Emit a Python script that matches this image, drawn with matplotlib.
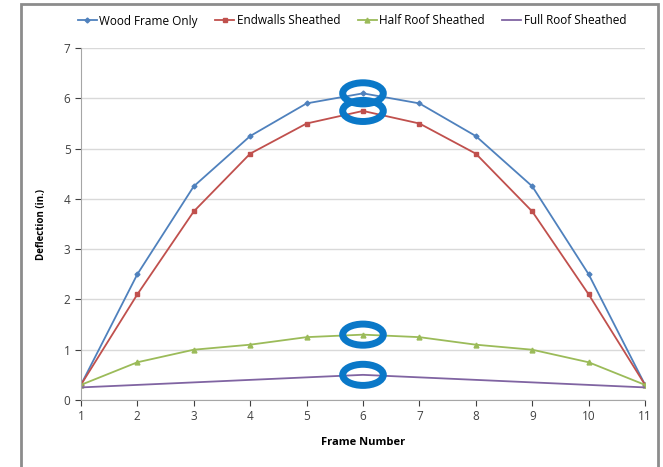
import matplotlib.pyplot as plt
from matplotlib.patches import Ellipse, Rectangle

plt.rcParams['font.family'] = ['Open Sans', 'DejaVu Sans']

frames = [1, 2, 3, 4, 5, 6, 7, 8, 9, 10, 11]
wood_frame = [0.3, 2.5, 4.25, 5.25, 5.9, 6.1, 5.9, 5.25, 4.25, 2.5, 0.3]
endwalls = [0.3, 2.1, 3.75, 4.9, 5.5, 5.75, 5.5, 4.9, 3.75, 2.1, 0.3]
half_roof = [0.3, 0.75, 1.0, 1.1, 1.25, 1.3, 1.25, 1.1, 1.0, 0.75, 0.3]
full_roof = [0.25, 0.3, 0.35, 0.4, 0.45, 0.5, 0.45, 0.4, 0.35, 0.3, 0.25]

# highlighted points (frame 6)
marked_x = 6
marked_y = [wood_frame[5], endwalls[5], half_roof[5], full_roof[5]]

fig = plt.figure(figsize=(6.63, 4.67), dpi=100)
ax = fig.add_axes([0.122, 0.1435, 0.851, 0.7535])

ax.plot(frames, wood_frame, color='#4F81BD', marker='D', markersize=2.5, lw=1.3, label='Wood Frame Only')
ax.plot(frames, endwalls, color='#C0504D', marker='s', markersize=3.5, lw=1.3, label='Endwalls Sheathed')
ax.plot(frames, half_roof, color='#9BBB59', marker='^', markersize=3.5, lw=1.3, label='Half Roof Sheathed')
ax.plot(frames, full_roof, color='#8064A2', lw=1.3, label='Full Roof Sheathed')

for y in marked_y:
    ax.add_patch(Ellipse((marked_x, y), 0.72, 0.42, fill=False, edgecolor='#0A78C8', lw=5, zorder=5))

ax.set_xlim(1, 11)
ax.set_ylim(0, 7)
ax.set_xticks(frames)
ax.set_yticks(range(0, 8))
ax.tick_params(labelsize=8.5, colors='#404040', length=4, direction='out')
ax.yaxis.grid(True, color='#D9D9D9', lw=1)
ax.set_axisbelow(True)
for s in ['top', 'right']:
    ax.spines[s].set_visible(False)
for s in ['left', 'bottom']:
    ax.spines[s].set_color('#A6A6A6')
ax.set_xlabel('Frame Number', fontsize=8, fontweight='bold', labelpad=10)
ax.set_ylabel('Deflection (in.)', fontsize=7, fontweight='bold', labelpad=12)

leg = ax.legend(loc='center', bbox_to_anchor=(352 / 663, 1 - 21 / 467), bbox_transform=fig.transFigure,
                ncol=4, frameon=False, fontsize=8.5, handlelength=1.6, handletextpad=0.2, columnspacing=1.5)

fig.patches.append(Rectangle((21 / 663, -0.1), 637 / 663, 1.1 - 4 / 467, transform=fig.transFigure,
                             fill=False, edgecolor='#8C8C8C', lw=2))

fig.savefig('out.png', dpi=100)
